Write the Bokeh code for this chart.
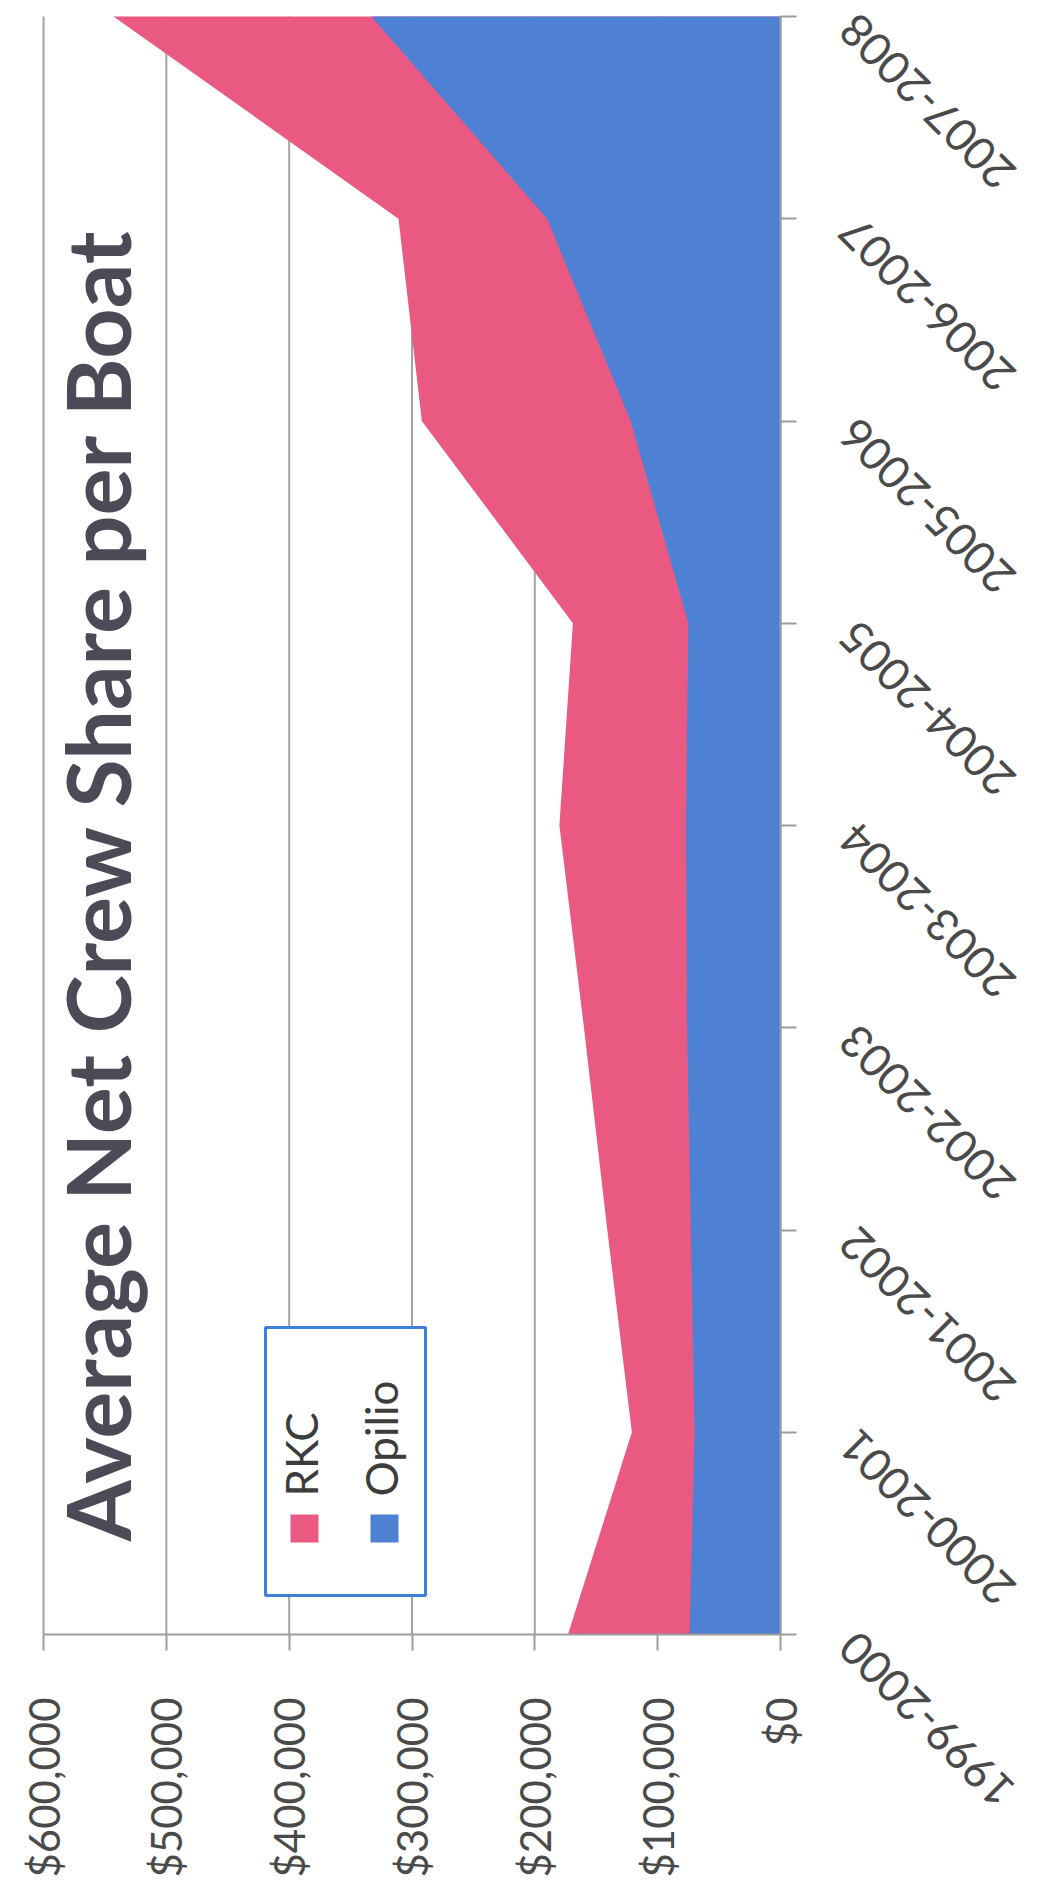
import math
from bokeh.plotting import figure
from bokeh.models import (Range1d, FixedTicker, NumeralTickFormatter, Label,
                          BoxAnnotation, ColumnDataSource, LinearAxis)
from bokeh.embed import file_html
from bokeh.resources import INLINE

# ---------------- data ----------------
categories = ["1999-2000", "2000-2001", "2001-2002", "2002-2003", "2003-2004",
              "2004-2005", "2005-2006", "2006-2007", "2007-2008"]
rkc = [173000, 121000, 141000, 160000, 180000, 169000, 292000, 311000, 543000]
opilio = [74000, 70000, 73000, 76000, 77000, 75000, 122000, 190000, 333000]
value_ticks = [0, 100000, 200000, 300000, 400000, 500000, 600000]
series_names = ["RKC", "Opilio"]
title_text = "Average Net Crew Share per Boat"

# ---------------- style / layout ----------------
colors = ["#EA5981", "#4E80D4"]
W, H = 1041, 1896
FL, FR, FT, FB = 43, 780, 16, 1634   # pixel box of the plotting area
XMAX = value_ticks[-1]
YMAX = len(categories) - 1
FONT = "Lato"
LABEL_COLOR = "#4a4a4a"
AXIS_COLOR = "#9c9c9c"
GRID_COLOR = "#a3a3a3"


def dx(px):
    return XMAX * (FR - px) / (FR - FL)


def dy(py):
    return YMAX * (FB - py) / (FB - FT)


idx = list(range(len(categories)))
src = ColumnDataSource(dict(y=idx, zero=[0] * len(idx), rkc=rkc, opilio=opilio))

p = figure(width=W, height=H, title=None,
           x_range=Range1d(dx(0), dx(W)), y_range=Range1d(dy(H), dy(0)),
           x_axis_location=None, y_axis_location=None,
           output_backend="svg", toolbar_location=None,
           min_border_left=0, min_border_right=0, min_border_top=0,
           min_border_bottom=0)
p.outline_line_color = None
p.background_fill_color = "white"
p.border_fill_color = "white"
p.xgrid.visible = False
p.ygrid.visible = False

# vertical gridlines at every value tick
p.segment(x0=value_ticks, y0=[0] * len(value_ticks), x1=value_ticks,
          y1=[YMAX] * len(value_ticks), line_color=GRID_COLOR, line_width=2)

# areas
p.harea(x1="zero", x2="rkc", y="y", source=src, fill_color=colors[0])
p.harea(x1="zero", x2="opilio", y="y", source=src, fill_color=colors[1])

# value axis (bottom, at category 0)
xa = LinearAxis(fixed_location=0, bounds=(0, XMAX),
                ticker=FixedTicker(ticks=value_ticks),
                formatter=NumeralTickFormatter(format="$0,0"))
xa.major_label_orientation = math.pi / 2
xa.major_label_text_font = FONT
xa.major_label_text_font_size = "42px"
xa.major_label_text_color = LABEL_COLOR
xa.major_label_standoff = 47
xa.major_tick_in = 0
xa.major_tick_out = 16
xa.minor_tick_in = 0
xa.minor_tick_out = 0
xa.axis_line_color = AXIS_COLOR
xa.axis_line_width = 2
xa.major_tick_line_color = AXIS_COLOR
xa.major_tick_line_width = 2
p.add_layout(xa, "below")

# category axis (right, at value 0)
ya = LinearAxis(fixed_location=0, bounds=(0, YMAX), ticker=FixedTicker(ticks=idx))
ya.major_label_overrides = {i: "" for i in idx}
ya.major_tick_in = 0
ya.major_tick_out = 16
ya.minor_tick_in = 0
ya.minor_tick_out = 0
ya.axis_line_color = AXIS_COLOR
ya.axis_line_width = 2
ya.major_tick_line_color = AXIS_COLOR
ya.major_tick_line_width = 2
p.add_layout(ya, "right")

# category labels (rotated, upside-down as on the scanned page)
for i, cat in zip(idx, categories):
    p.add_layout(Label(x=dx(FR + 67), y=i - 5 * YMAX / (FB - FT), text=cat,
                       angle=3 * math.pi / 4, text_align="right",
                       text_baseline="middle", text_font=FONT,
                       text_font_size="45px", text_color=LABEL_COLOR))

# title (rotated)
p.add_layout(Label(x=dx(96), y=dy(884), text=title_text, angle=math.pi / 2,
                   text_align="center", text_baseline="alphabetic",
                   text_font=FONT, text_font_style="bold",
                   text_font_size="88px", text_color="#4B4B57"))

# legend (rotated, drawn by hand)
p.add_layout(BoxAnnotation(left=dx(265), right=dx(425), top=dy(1327), bottom=dy(1595),
                           fill_color="white", fill_alpha=1.0,
                           line_color="#3F7FD8", line_alpha=1.0, line_width=3))
sw_x = [(290, 318), (370, 398)]
for (l, r), c, name in zip(sw_x, colors, series_names):
    p.add_layout(BoxAnnotation(left=dx(l), right=dx(r), top=dy(1514), bottom=dy(1542),
                               fill_color=c, fill_alpha=1.0, line_color=None))
    p.add_layout(Label(x=dx((l + r) / 2 - 4), y=dy(1496), text=name, angle=math.pi / 2,
                       text_align="left", text_baseline="middle", text_font=FONT,
                       text_font_size="44px", text_color="#3c3c3c"))

open("out.html", "w").write(file_html(p, INLINE, title=title_text))
